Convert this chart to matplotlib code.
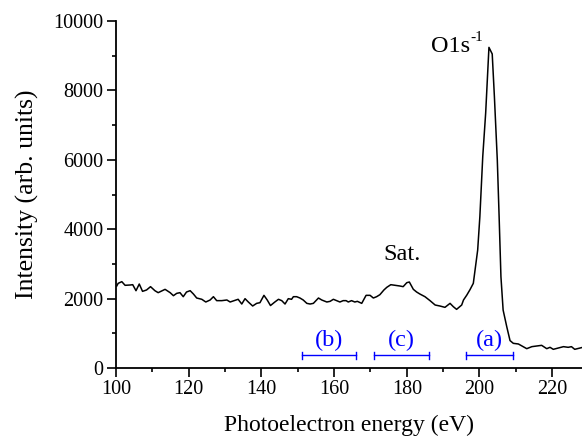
import matplotlib
matplotlib.use("Agg")
import matplotlib.pyplot as plt

plt.rcParams['font.family'] = ['Liberation Serif', 'DejaVu Serif']

energy = [100.2, 100.6, 101.6, 102.5, 103.9, 104.6, 105.5, 106.4, 107.3, 108.4,
          109.5, 110.7, 111.6, 113.5, 114.9, 115.8, 116.7, 117.6, 118.5, 119.4,
          120.4, 121.3, 122.2, 123.6, 124.7, 125.9, 126.8, 127.7, 129.1, 130.5,
          131.4, 132.5, 133.6, 134.6, 135.5, 136.4, 137.6, 138.7, 139.6, 140.7,
          141.6, 142.5, 143.7, 144.7, 145.6, 146.5, 147.4, 148.3, 148.8, 149.7,
          150.6, 151.5, 152.5, 153.4, 154.3, 155.7, 156.6, 158.0, 158.9, 159.8,
          160.7, 161.6, 162.5, 163.3, 163.9, 164.8, 165.7, 166.4, 167.6, 168.8,
          169.9, 170.8, 171.7, 172.6, 173.7, 174.5, 175.6, 176.8, 178.1, 179.0,
          180.0, 180.7, 181.8, 182.7, 183.6, 185.0, 186.4, 187.8, 189.1, 190.5,
          191.9, 192.8, 193.7, 195.1, 195.6, 196.5, 197.4, 198.3, 198.6, 199.5,
          200.1, 200.9, 201.7, 202.6, 203.5, 204.1, 204.9, 205.4, 205.9, 206.5,
          207.5, 208.4, 209.3, 210.7, 212.0, 213.0, 214.4, 215.7, 217.1, 218.5,
          219.4, 220.3, 221.7, 223.1, 224.4, 225.3, 226.2, 227.6, 228.2]
intensity = [2363, 2440, 2488, 2383, 2392, 2401, 2228, 2420, 2209, 2248,
             2344, 2228, 2171, 2267, 2171, 2084, 2151, 2171, 2055, 2190,
             2228, 2132, 2017, 1980, 1902, 1960, 2055, 1941, 1941, 1960,
             1902, 1941, 1980, 1844, 1998, 1902, 1787, 1863, 1882, 2094,
             1960, 1800, 1902, 1980, 1941, 1844, 1998, 1980, 2055, 2055,
             2017, 1960, 1863, 1844, 1863, 2017, 1960, 1902, 1921, 1980,
             1941, 1902, 1941, 1941, 1902, 1941, 1902, 1921, 1863, 2094,
             2094, 2017, 2055, 2113, 2248, 2325, 2401, 2383, 2363, 2344,
             2459, 2478, 2267, 2190, 2132, 2055, 1940, 1815, 1787, 1748,
             1863, 1767, 1690, 1815, 1960, 2100, 2260, 2440, 2680, 3400,
             4360, 6100, 7350, 9240, 9050, 7820, 5990, 4360, 2630, 1670,
             1190, 790, 711, 692, 615, 557, 615, 634, 653, 557,
             596, 538, 576, 615, 596, 615, 538, 576, 590]

range_labels = ['(b)', '(c)', '(a)']
range_start = [151.1, 171.0, 196.2]
range_end = [166.0, 186.2, 209.1]

x_ticks = [100, 120, 140, 160, 180, 200, 220]
y_ticks = [0, 2000, 4000, 6000, 8000, 10000]

fig = plt.figure(figsize=(5.82, 4.37), dpi=100)
ax = fig.add_axes([116/582, 1-368/437, 466/582, 347/437])

ax.plot(energy, intensity, color='black', lw=1.1)

bar_y = 365
for lab, s, e in zip(range_labels, range_start, range_end):
    ax.plot([s, e], [bar_y, bar_y], color='blue', lw=1.0)
    ax.plot([s, s], [bar_y-110, bar_y+110], color='blue', lw=1.0)
    ax.plot([e, e], [bar_y-110, bar_y+110], color='blue', lw=1.0)
    ax.text((s+e)/2, 640, lab, color='blue', fontsize=17.5, ha='center', va='baseline')

t1 = ax.text(186.6, 9107, 'O1s', fontsize=17.5, ha='left', va='baseline')
ax.annotate('-1', xy=(1.0, 0.62), xycoords=t1, fontsize=11, ha='left', va='bottom')
ax.text(178.7, 3112, 'Sat.', fontsize=17.5, ha='center', va='baseline')

ax.set_xlim(100, 228.2)
ax.set_ylim(0, 10000)
ax.set_xticks(x_ticks)
ax.set_yticks(y_ticks)
ax.set_xticks([110, 130, 150, 170, 190, 210], minor=True)
ax.set_yticks([1000, 3000, 5000, 7000, 9000], minor=True)
ax.tick_params(which='major', direction='out', length=6.5, width=1.2, labelsize=14.5, pad=2.5)
ax.tick_params(which='minor', direction='out', length=3.2, width=1.2)
for side in ['top', 'right']:
    ax.spines[side].set_visible(False)
for side in ['left', 'bottom']:
    ax.spines[side].set_linewidth(1.3)

ax.set_xlabel('Photoelectron energy (eV)', fontsize=17, labelpad=11)
ax.set_ylabel('Intensity (arb. units)', fontsize=18.5, labelpad=10)

fig.savefig('out.png', dpi=100)
